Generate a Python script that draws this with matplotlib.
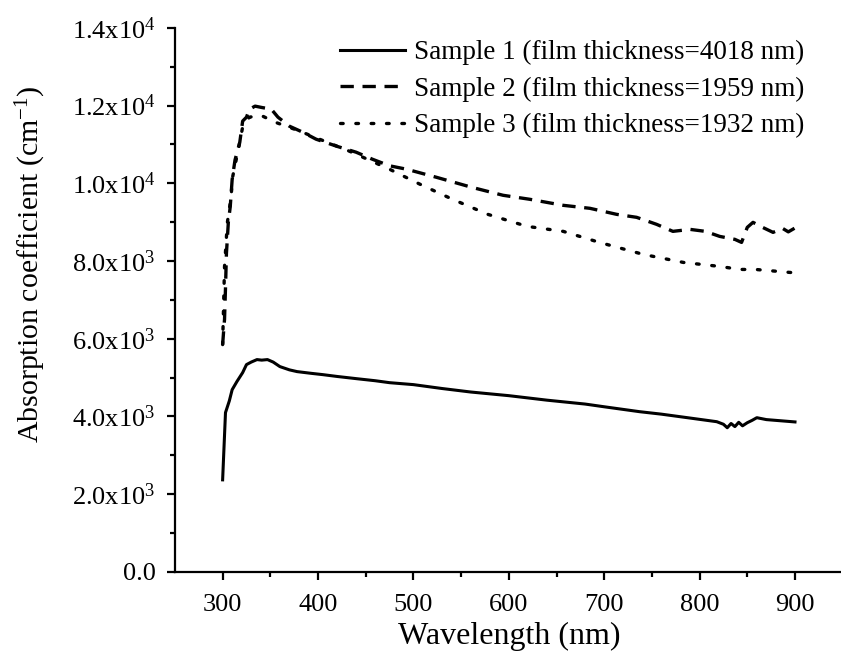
import numpy as np
import matplotlib
matplotlib.use('Agg')
import matplotlib.pyplot as plt
from matplotlib.ticker import MultipleLocator, FixedLocator, FuncFormatter

plt.rcParams['font.family'] = 'Liberation Serif'
plt.rcParams['mathtext.fontset'] = 'custom'
plt.rcParams['mathtext.rm'] = 'Liberation Serif'
plt.rcParams['mathtext.it'] = 'Liberation Serif:italic'

# Sample 1 (solid)
wl1 = [300, 303, 304, 307, 310, 315, 321, 325, 330, 336, 341, 347, 353, 360,
       370, 378, 393, 405, 420, 440, 460, 475, 500, 530, 560, 600, 640, 680, 700,
       737, 760, 790, 818, 825, 829, 833, 837, 841, 845, 850, 855, 860, 870, 880,
       890, 900]
a1 = [2370, 4100, 4175, 4400, 4690, 4900, 5129, 5335, 5400, 5464, 5450, 5464,
      5400, 5284, 5200, 5155, 5110, 5077, 5030, 4974, 4920, 4870, 4820, 4720, 4630,
      4536, 4420, 4320, 4250, 4124, 4060, 3960, 3866, 3800, 3711, 3820, 3740, 3850,
      3760, 3840, 3900, 3969, 3920, 3900, 3880, 3860]

# Sample 2 (dashed)
wl2 = [300, 302, 303, 304, 306, 308, 310, 313, 318, 321, 325, 328, 334, 341,
       351, 358, 370, 384, 398, 420, 440, 457, 475, 493, 524, 561, 594, 622, 657,
       685, 713, 734, 755, 772, 790, 806, 821, 837, 844, 850, 856, 866, 877, 887,
       893, 900]
a2 = [5850, 6500, 7300, 8200, 9000, 9400, 10100, 10600, 11057, 11600, 11700,
      11900, 11985, 11950, 11907, 11701, 11469, 11314, 11134, 10950, 10799, 10619,
      10450, 10361, 10155, 9897, 9691, 9588, 9433, 9356, 9201, 9124, 8943, 8763,
      8814, 8763, 8634, 8557, 8479, 8866, 8995, 8866, 8737, 8840, 8750, 8850]

# Sample 3 (dotted)
wl3 = [300, 302, 305, 309, 310, 318, 321, 328, 340, 355, 380, 400, 433, 475, 507,
       541, 578, 619, 657, 695, 741, 783, 821, 842, 860, 895, 900]
a3 = [5850, 7861, 8995, 9665, 10103, 11057, 11450, 11700, 11750, 11572, 11350,
      11150, 10825, 10361, 9974, 9588, 9201, 8892, 8763, 8479, 8170, 7964, 7861,
      7784, 7780, 7706, 7700]

labels = ['Sample 1 (film thickness=4018 nm)',
          'Sample 2 (film thickness=1959 nm)',
          'Sample 3 (film thickness=1932 nm)']

fig = plt.figure(figsize=(8.41, 6.62), dpi=100)
ax = fig.add_axes([0.208, 0.136, 0.794, 0.822])

ax.plot(wl1, a1, color='black', lw=2.2, label=labels[0])
ax.plot(wl2, a2, color='black', lw=2.4, linestyle=(0, (4, 2.6)), label=labels[1])
ax.plot(wl3, a3, color='black', lw=2.4, linestyle=(0, (0.8, 3.8)),
        dash_capstyle='round', label=labels[2])

ax.set_xlim(250, 950)
ax.set_ylim(0, 14000)

ax.xaxis.set_major_locator(FixedLocator([300, 400, 500, 600, 700, 800, 900]))
ax.xaxis.set_minor_locator(FixedLocator([350, 450, 550, 650, 750, 850]))
ax.yaxis.set_major_locator(MultipleLocator(2000))
ax.yaxis.set_minor_locator(MultipleLocator(1000))


def yfmt(v, pos):
    if v <= 0:
        return '0.0'
    e = int(np.floor(np.log10(v)))
    return '%.1fx10$^{%d}$' % (v / 10 ** e, e)


ax.yaxis.set_major_formatter(FuncFormatter(yfmt))

for s in ['top', 'right']:
    ax.spines[s].set_visible(False)
for s in ['left', 'bottom']:
    ax.spines[s].set_linewidth(1.6)

ax.tick_params(which='major', direction='out', length=6, width=1.6, labelsize=19)
ax.tick_params(which='minor', direction='out', length=3.5, width=1.6)
ax.tick_params(axis='x', which='major', pad=10)
ax.tick_params(axis='y', which='major', pad=8)

ax.set_xlabel('Wavelength (nm)', fontsize=23, labelpad=4)
ax.set_ylabel('Absorption coefficient (cm$^{-1}$)', fontsize=21.5)
ax.yaxis.set_label_coords(-0.19, 0.566)

leg = ax.legend(loc='upper left', bbox_to_anchor=(340 / 841, 1 - 40 / 662),
                bbox_transform=fig.transFigure, frameon=False, fontsize=19.5,
                handlelength=2.4, handletextpad=0.35, labelspacing=0.42,
                borderaxespad=0, borderpad=0)

fig.savefig('out.png', dpi=100)
